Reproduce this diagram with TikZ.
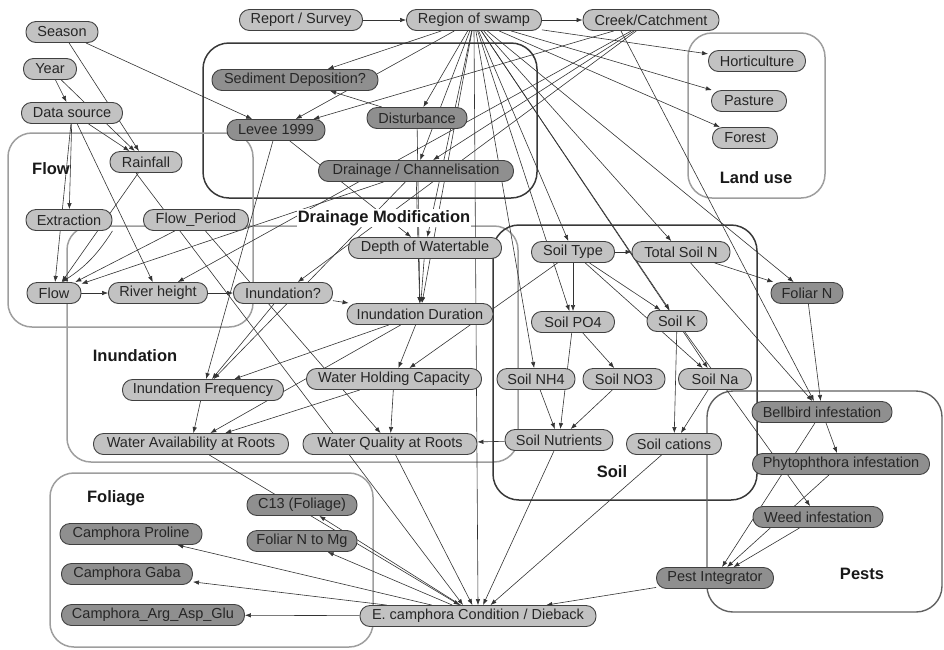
\documentclass[tikz,border=0pt]{standalone}
\usepackage{fontspec}
\setmainfont{Liberation Sans}
\usetikzlibrary{arrows.meta}
\pgfdeclarelayer{bg}
\pgfsetlayers{bg,main}
\begin{document}
\begin{tikzpicture}[x=1pt,y=-1pt,
  nd/.style={draw=black!75, line width=0.9pt, rounded corners=10pt, minimum height=21pt,
             inner sep=0pt, font=\fontsize{14.5}{16}\selectfont, text=black!85},
  lt/.style={nd, fill=black!24},
  dk/.style={nd, fill=black!44},
  ed/.style={draw=black!80, line width=0.6pt, -{Latex[length=6pt,width=4.5pt]}},
  grpd/.style={draw=black!78, line width=1.5pt, rounded corners=26pt},
  grpm/.style={draw=black!62, line width=1.4pt, rounded corners=26pt},
  grpl/.style={draw=black!38, line width=1.5pt, rounded corners=24pt},
  lbl/.style={font=\fontsize{16.5}{18}\selectfont\bfseries, text=black!90, inner sep=1pt},
]
\useasboundingbox (0,0) rectangle (944,649);

% ---- variables ----
\node[lt, minimum width=72pt]  (sea)  at (62,32)   {Season};
\node[lt, minimum width=53pt]  (yr)   at (50,69)   {Year};
\node[lt, minimum width=101pt] (ds)   at (72,113)  {Data source};
\node[lt, minimum width=123pt] (rs)   at (301,20)  {Report / Survey};
\node[lt, minimum width=135pt] (rg)   at (474,20)  {Region of swamp};
\node[lt, minimum width=136pt] (cc)   at (651,20)  {Creek/Catchment};
\node[lt, minimum width=97pt]  (hort) at (757,61)  {Horticulture};
\node[lt, minimum width=75pt]  (past) at (749,101) {Pasture};
\node[lt, minimum width=65pt]  (for)  at (745,138) {Forest};
\node[dk, minimum width=166pt] (sed)  at (295,80)  {Sediment Deposition?};
\node[dk, minimum width=98pt]  (lev)  at (276,130) {Levee 1999};
\node[dk, minimum width=100pt] (dist) at (417,118) {Disturbance};
\node[dk, minimum width=195pt] (drain) at (416,171) {Drainage / Channelisation};
\node[lt, minimum width=72pt]  (rain) at (146,162) {Rainfall};
\node[lt, minimum width=86pt]  (ext)  at (69,220)  {Extraction};
\node[lt, minimum width=105pt] (flp)  at (196,220) {Flow\_Period};
\node[lt, minimum width=54pt]  (flow) at (54,293)  {Flow};
\node[lt, minimum width=99pt]  (rh)   at (158,293) {River height};
\node[lt, minimum width=99pt]  (inq)  at (283,293) {Inundation?};
\node[lt, minimum width=153pt] (dwt)  at (425,248) {Depth of Watertable};
\node[lt, minimum width=146pt] (idur) at (420,314) {Inundation Duration};
\node[lt, minimum width=161pt] (ifr)  at (203,390) {Inundation Frequency};
\node[lt, minimum width=175pt] (whc)  at (394,379) {Water Holding Capacity};
\node[lt, minimum width=195pt] (war)  at (191,444) {Water Availability at Roots};
\node[lt, minimum width=174pt] (wqr)  at (390,444) {Water Quality at Roots};
\node[lt, minimum width=83pt]  (st)   at (573,252) {Soil Type};
\node[lt, minimum width=98pt]  (tsn)  at (681,252) {Total Soil N};
\node[dk, minimum width=72pt]  (fn)   at (807,293) {Foliar N};
\node[lt, minimum width=83pt]  (po4)  at (573,322) {Soil PO4};
\node[lt, minimum width=60pt]  (sk)   at (677,321) {Soil K};
\node[lt, minimum width=78pt]  (nh4)  at (536,379) {Soil NH4};
\node[lt, minimum width=82pt]  (no3)  at (624,379) {Soil NO3};
\node[lt, minimum width=73pt]  (sna)  at (715,379) {Soil Na};
\node[lt, minimum width=108pt] (snut) at (559,440) {Soil Nutrients};
\node[lt, minimum width=95pt]  (scat) at (674,444) {Soil cations};
\node[dk, minimum width=140pt] (bell) at (822,412) {Bellbird infestation};
\node[dk, minimum width=177pt] (phy)  at (841,464) {Phytophthora infestation};
\node[dk, minimum width=130pt] (weed) at (818,517) {Weed infestation};
\node[dk, minimum width=117pt] (pest) at (715,578) {Pest Integrator};
\node[dk, minimum width=110pt] (c13)  at (302,505) {C13 (Foliage)};
\node[dk, minimum width=110pt] (fnmg) at (302,541) {Foliar N to Mg};
\node[dk, minimum width=142pt] (prol) at (131,534) {Camphora Proline};
\node[dk, minimum width=131pt] (gaba) at (127,574) {Camphora Gaba};
\node[dk, minimum width=183pt] (arg)  at (153,615) {Camphora\_Arg\_Asp\_Glu};
\node[lt, minimum width=236pt] (ecc)  at (478,616) {E. camphora Condition / Dieback};

% ---- group titles ----
\node[lbl] (tflow) at (51,169) {Flow};
\node[lbl, fill=white] (tdrain) at (384,218) {Drainage Modification};
\node[lbl] (tland) at (756,178) {Land use};
\node[lbl] (tinund) at (135,356) {Inundation};
\node[lbl] (tsoil) at (612,472) {Soil};
\node[lbl] (tpests) at (862,574) {Pests};
\node[lbl] (tfol) at (116,498) {Foliage};

\begin{pgfonlayer}{bg}
  % group frames
  \draw[grpd] (203,43) rectangle (537,198);
  \draw[grpl] (688,33) rectangle (825,198);
  \draw[grpl] (8,133) rectangle (253,327);
  \draw[grpl] (67,226) rectangle (518,462);
  \draw[grpd] (493,225) rectangle (757,500);
  \draw[grpm] (707,391) rectangle (942,612);
  \draw[grpl] (50,473) rectangle (373,647);

  % dependencies
  \foreach \a/\b in {rs/rg, rg/cc, rg/hort, rg/past, rg/for, rg/sed, rg/lev, rg/dist, rg/drain,
      rg/dwt, rg/idur, rg/st, rg/po4, rg/tsn, rg/sk, rg/sna, rg/nh4, rg/fn,
      cc/lev, cc/drain, cc/rh, cc/inq,
      dist/sed, sea/rain, sea/lev, yr/ds, yr/rain, ds/rain, ds/ext, ds/flow, ds/rh,
      rain/flow, flp/flow, flp/wqr, drain/flow,
      flow/rh, rh/inq, inq/idur, lev/ifr, inq/ifr, drain/ifr, idur/ifr, lev/dwt,
      dwt/idur, drain/idur, dist/idur, idur/whc, st/whc,
      ifr/war, whc/war, idur/war, whc/wqr, snut/wqr,
      war/ecc, wqr/ecc, snut/ecc, scat/ecc, pest/ecc,
      ecc/c13, ecc/fnmg, ecc/prol, ecc/gaba, ecc/arg,
      st/tsn, st/po4, st/sk, st/sna, tsn/fn, tsn/bell, po4/snut, po4/no3,
      nh4/snut, no3/snut, sk/scat, sna/scat, sk/weed, fn/bell,
      bell/phy, bell/pest, phy/pest, weed/pest}
    \draw[ed] (\a) -- (\b);
  \draw[ed] ([xshift=-30pt]cc.south) -- ([xshift=-8pt]bell.north);
  \draw[ed] (rg.south) -- (ecc.north);
  \draw[ed] ([xshift=-10pt]rain.south) -- ([xshift=-15pt]ecc.north);
  \draw[ed] (ext.south east) to[bend left=12] ([xshift=8pt]flow.north);
\end{pgfonlayer}
\end{tikzpicture}
\end{document}
